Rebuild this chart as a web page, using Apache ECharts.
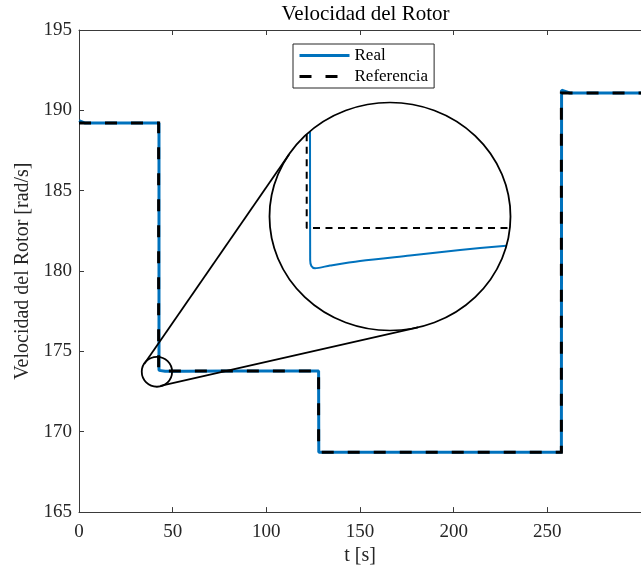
<!DOCTYPE html>
<html><head><meta charset="utf-8">
<script src="https://cdn.jsdelivr.net/npm/echarts@6/dist/echarts.min.js"></script>
<style>html,body{margin:0;padding:0;background:#fff}#c{width:641px;height:571px}</style>
</head><body><div id="c"></div>
<script>
// ---- data ----
const xTicks = [0, 50, 100, 150, 200, 250, 300];
const yTicks = [165, 170, 175, 180, 185, 190, 195];
const refT = [0, 42.5, 42.5, 127.9, 127.9, 257.5, 257.5, 300];
const refV = [189.22, 189.22, 173.78, 173.78, 168.73, 168.73, 191.08, 191.08];
const realT = [0, 1, 3, 42.7, 42.7, 43.0, 46, 56, 80, 127.9, 128.0, 128.3, 257.5, 257.6, 258.5, 262, 300];
const realV = [189.36, 189.28, 189.22, 189.22, 173.82, 173.763, 173.7655, 173.772, 173.78, 173.78, 168.73, 168.73, 168.73, 191.25, 191.14, 191.08, 191.08];
// magnified view (inset)
const insetXRange = [40, 56];
const insetYRange = [173.735, 173.835];
const insetRefT = [42.47, 42.47, 55.9];
const insetRefV = [173.8211, 173.78, 173.78];
const insetRealT = [42.69, 42.70, 42.78, 43.02, 44.02, 46.01, 49.33, 52.65, 55.72];
const insetRealV = [173.8222, 173.7659, 173.7633, 173.7623, 173.7635, 173.7655, 173.7679, 173.7703, 173.7722];
// zoom marker (data units)
const zoomCenter = [41.6, 173.73];
const zoomRadius = [8.1, 0.93];

const zip = (a, b) => a.map((v, i) => [v, b[i]]);
const FONT = 'Liberation Serif';
const AX = '#3a3a3a';
const chart = echarts.init(document.getElementById('c'), null, {renderer: 'canvas'});
const insetBox = {left: 269.5, top: 102.5, width: 241, height: 228};

chart.setOption({
  animation: false,
  backgroundColor: '#fff',
  grid: [
    {left: 79, top: 30, width: 573, height: 483},
    Object.assign({}, insetBox)
  ],
  legend: {
    orient: 'vertical', left: 293, top: 44,
    data: ['Real', 'Referencia'],
    itemWidth: 50, itemHeight: 10, itemGap: 4,
    padding: [3, 6, 3, 5],
    backgroundColor: '#fff', borderColor: '#262626', borderWidth: 1,
    itemStyle: {opacity: 0},
    lineStyle: {width: 3},
    textStyle: {fontFamily: FONT, fontSize: 17, color: '#000', lineHeight: 17},
    selectedMode: false
  },
  xAxis: [
    {gridIndex: 0, type: 'value', min: xTicks[0], max: xTicks[xTicks.length - 1], interval: xTicks[1] - xTicks[0],
     name: 't [s]', nameLocation: 'middle', nameGap: 29,
     nameTextStyle: {fontFamily: FONT, fontSize: 20, color: '#262626'},
     axisLine: {show: true, lineStyle: {color: AX, width: 1}},
     axisTick: {show: true, inside: true, length: 5, lineStyle: {color: AX}},
     axisLabel: {fontFamily: FONT, fontSize: 19, color: '#262626', margin: 10, showMaxLabel: false},
     splitLine: {show: false}},
    {gridIndex: 0, type: 'value', position: 'top', min: xTicks[0], max: xTicks[xTicks.length - 1], interval: xTicks[1] - xTicks[0],
     axisLine: {show: true, lineStyle: {color: AX, width: 1}},
     axisTick: {show: true, inside: true, length: 5, lineStyle: {color: AX}},
     axisLabel: {show: false}, splitLine: {show: false}},
    {gridIndex: 1, type: 'value', min: insetXRange[0], max: insetXRange[1], show: false}
  ],
  yAxis: [
    {gridIndex: 0, type: 'value', min: yTicks[0], max: yTicks[yTicks.length - 1], interval: yTicks[1] - yTicks[0],
     name: 'Velocidad del Rotor [rad/s]', nameLocation: 'middle', nameGap: 46,
     nameTextStyle: {fontFamily: FONT, fontSize: 20, color: '#262626'},
     axisLine: {show: true, lineStyle: {color: AX, width: 1}},
     axisTick: {show: true, inside: true, length: 5, lineStyle: {color: AX}},
     axisLabel: {fontFamily: FONT, fontSize: 19, color: '#262626', margin: 7},
     splitLine: {show: false}},
    {gridIndex: 1, type: 'value', min: insetYRange[0], max: insetYRange[1], show: false, scale: true}
  ],
  series: [
    {name: 'Real', type: 'line', xAxisIndex: 0, yAxisIndex: 0, data: zip(realT, realV),
     symbol: 'none', lineStyle: {color: '#0072BD', width: 3}, itemStyle: {color: '#0072BD'}, z: 2},
    {name: 'Referencia', type: 'line', xAxisIndex: 0, yAxisIndex: 0, data: zip(refT, refV),
     symbol: 'none', lineStyle: {color: '#000', width: 3, type: [12, 14], cap: 'butt', join: 'miter'}, itemStyle: {color: '#000'}, z: 3},
    {name: 'inReal', type: 'line', xAxisIndex: 2, yAxisIndex: 1, data: zip(insetRealT, insetRealV),
     symbol: 'none', clip: false, smooth: 0.3, lineStyle: {color: '#0072BD', width: 2}, z: 4},
    {name: 'inRef', type: 'line', xAxisIndex: 2, yAxisIndex: 1, data: zip(insetRefT, insetRefV),
     symbol: 'none', clip: false, lineStyle: {color: '#000', width: 2, type: [7, 5.5], cap: 'butt'}, z: 5}
  ]
});

// annotation: zoom marker circle, magnifier ellipse and tangent connectors
const c0 = chart.convertToPixel({gridIndex: 0}, zoomCenter);
const c0b = chart.convertToPixel({gridIndex: 0}, [zoomCenter[0] + zoomRadius[0], zoomCenter[1] + zoomRadius[1]]);
const sRx = Math.abs(c0b[0] - c0[0]), sRy = Math.abs(c0b[1] - c0[1]);
const bRx = insetBox.width / 2, bRy = insetBox.height / 2;
const c1 = [insetBox.left + bRx, insetBox.top + bRy];
const k = bRx / bRy;
function tangents(p1, r1, p2, r2) {
  const dx = p2[0] - p1[0], dy = p2[1] - p1[1], d = Math.hypot(dx, dy);
  const ux = dx / d, uy = dy / d;
  const cs = (r1 - r2) / d, sn = Math.sqrt(1 - cs * cs);
  const out = [];
  for (const s of [1, -1]) {
    const nx = cs * ux - s * sn * uy, ny = cs * uy + s * sn * ux;
    out.push([[p1[0] + r1 * nx, (p1[1] + r1 * ny) / k], [p2[0] + r2 * nx, (p2[1] + r2 * ny) / k]]);
  }
  return out;
}
const tl = tangents([c0[0], c0[1] * k], sRx, [c1[0], c1[1] * k], bRx);
const stroke = {stroke: '#000', lineWidth: 1.8, fill: null};
chart.setOption({
  graphic: [
    {type: 'circle', z: 100, x: c0[0], y: c0[1], scaleY: sRy / sRx, shape: {cx: 0, cy: 0, r: sRx}, style: Object.assign({}, stroke), silent: true},
    {type: 'circle', z: 100, x: c1[0], y: c1[1], scaleY: bRy / bRx, shape: {cx: 0, cy: 0, r: bRx}, style: Object.assign({}, stroke), silent: true},
    ...tl.map(t => ({type: 'line', z: 100, shape: {x1: t[0][0], y1: t[0][1], x2: t[1][0], y2: t[1][1]}, style: {stroke: '#000', lineWidth: 1.8}, silent: true})),
    {type: 'text', z: 100, x: (79 + 79 + 573) / 2, y: 14,
     style: {text: 'Velocidad del Rotor', font: '21px "Liberation Serif"', fill: '#000', textAlign: 'center', textVerticalAlign: 'middle'}}
  ]
});
</script></body></html>
